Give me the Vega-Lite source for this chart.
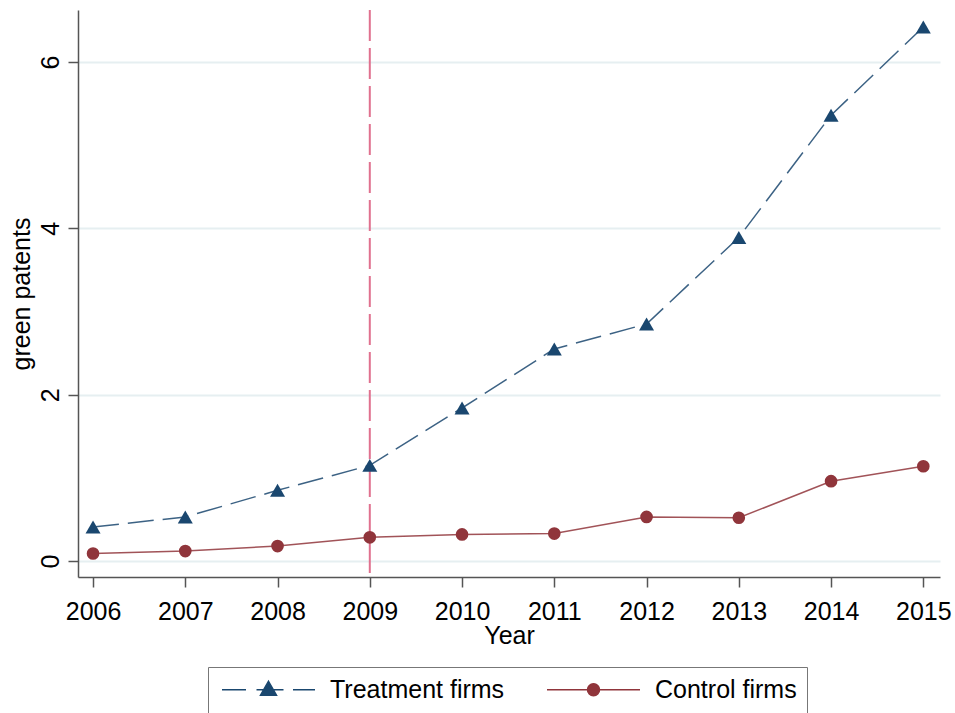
{
  "$schema": "https://vega.github.io/schema/vega-lite/v6.json",
  "autosize": {"type": "none"},
  "width": 862,
  "height": 567,
  "padding": {"left": 78, "top": 10, "right": 15, "bottom": 136},
  "background": "white",
  "config": {
    "view": {"stroke": null},
    "font": "Liberation Sans",
    "axis": {
      "labelFont": "Liberation Sans",
      "titleFont": "Liberation Sans",
      "labelFontSize": 25,
      "titleFontSize": 25,
      "titleFontWeight": "normal",
      "labelColor": "#000",
      "titleColor": "#000",
      "domainColor": "#555",
      "domainWidth": 1.5,
      "tickColor": "#555",
      "tickWidth": 1.5,
      "tickSize": 10
    }
  },
  "data": {
    "values": [
      {"year": 2006, "series": "Treatment firms", "value": 0.41},
      {"year": 2007, "series": "Treatment firms", "value": 0.53},
      {"year": 2008, "series": "Treatment firms", "value": 0.85},
      {"year": 2009, "series": "Treatment firms", "value": 1.15},
      {"year": 2010, "series": "Treatment firms", "value": 1.84},
      {"year": 2011, "series": "Treatment firms", "value": 2.55},
      {"year": 2012, "series": "Treatment firms", "value": 2.85},
      {"year": 2013, "series": "Treatment firms", "value": 3.89},
      {"year": 2014, "series": "Treatment firms", "value": 5.36},
      {"year": 2015, "series": "Treatment firms", "value": 6.42},
      {"year": 2006, "series": "Control firms", "value": 0.09},
      {"year": 2007, "series": "Control firms", "value": 0.12},
      {"year": 2008, "series": "Control firms", "value": 0.18},
      {"year": 2009, "series": "Control firms", "value": 0.285},
      {"year": 2010, "series": "Control firms", "value": 0.32},
      {"year": 2011, "series": "Control firms", "value": 0.33},
      {"year": 2012, "series": "Control firms", "value": 0.53},
      {"year": 2013, "series": "Control firms", "value": 0.52},
      {"year": 2014, "series": "Control firms", "value": 0.96},
      {"year": 2015, "series": "Control firms", "value": 1.14}
    ]
  },
  "layer": [
    {
      "data": {"values": [{"year": 2009}]},
      "mark": {"type": "rule", "color": "#e0718f", "strokeWidth": 2, "strokeDash": [31, 7]},
      "encoding": {
        "x": {"field": "year", "type": "quantitative"}
      }
    },
    {
      "transform": [{"filter": "datum.series === 'Treatment firms'"}],
      "mark": {"type": "line", "strokeWidth": 1.5, "opacity": 0.85, "color": "#1a476f", "strokeDash": [26, 9]},
      "encoding": {
        "x": {
          "field": "year", "type": "quantitative",
          "scale": {"domain": [2005.837, 2015.181], "nice": false, "zero": false},
          "axis": {
            "values": [2006, 2007, 2008, 2009, 2010, 2011, 2012, 2013, 2014, 2015],
            "format": "d",
            "title": "Year",
            "grid": false,
            "labelBaseline": "alphabetic",
            "labelPadding": 32,
            "titleBaseline": "alphabetic",
            "titleY": 66,
            "titleX": 431
          }
        },
        "y": {
          "field": "value", "type": "quantitative",
          "scale": {"domain": [-0.192, 6.625], "nice": false, "zero": false},
          "axis": {
            "values": [0, 2, 4, 6],
            "format": "d",
            "title": "green patents",
            "grid": true,
            "gridColor": "#e6eff1",
            "gridWidth": 2,
            "labelAngle": 270,
            "labelAlign": "center",
            "labelBaseline": "alphabetic",
            "labelPadding": 10,
            "titleAngle": 270,
            "titleAlign": "center",
            "titleBaseline": "alphabetic",
            "titleX": -49,
            "titleY": 283.5
          }
        }
      }
    },
    {
      "transform": [{"filter": "datum.series === 'Control firms'"}],
      "mark": {"type": "line", "strokeWidth": 1.5, "opacity": 0.85, "color": "#90353b"},
      "encoding": {
        "x": {"field": "year", "type": "quantitative"},
        "y": {"field": "value", "type": "quantitative"}
      }
    },
    {
      "mark": {"type": "point", "filled": true, "opacity": 1},
      "encoding": {
        "x": {"field": "year", "type": "quantitative"},
        "y": {"field": "value", "type": "quantitative"},
        "color": {
          "condition": {"test": "datum.series === 'Treatment firms'", "value": "#1a476f"},
          "value": "#90353b"
        },
        "shape": {
          "condition": {"test": "datum.series === 'Treatment firms'", "value": "triangle-up"},
          "value": "circle"
        },
        "size": {
          "condition": {"test": "datum.series === 'Treatment firms'", "value": 225},
          "value": 160
        }
      }
    },
    {
      "transform": [{"filter": "datum.year < 0"}],
      "mark": {"type": "point", "strokeWidth": 1.5, "opacity": 1, "fillOpacity": 1, "strokeOpacity": 1},
      "encoding": {
        "x": {"field": "year", "type": "quantitative"},
        "y": {"field": "value", "type": "quantitative"},
        "fill": {
          "field": "series", "type": "nominal",
          "scale": {"domain": ["Treatment firms", "Control firms"], "range": ["#1a476f", "#90353b"]},
          "legend": {
            "title": null,
            "orient": "none",
            "legendX": 130,
            "legendY": 657,
            "direction": "horizontal",
            "columns": 2,
            "padding": 10,
            "strokeColor": "#777",
            "fillColor": "white",
            "labelFont": "Liberation Sans",
            "labelFontSize": 25,
            "labelColor": "#000",
            "labelLimit": 400,
            "symbolSize": 400,
            "symbolStrokeWidth": 1.5,
            "symbolOpacity": 1,
            "symbolOffset": 38,
            "labelOffset": 49,
            "columnPadding": 38
          }
        },
        "stroke": {
          "field": "series", "type": "nominal",
          "scale": {"domain": ["Treatment firms", "Control firms"], "range": ["#1a476f", "#90353b"]}
        },
        "shape": {
          "field": "series", "type": "nominal",
          "scale": {
            "domain": ["Treatment firms", "Control firms"],
            "range": [
              "M-4.65,0H-2.25M-1.2,0H1.5M2.45,0H4.65M0,-0.85L0.8,0.55L-0.8,0.55Z",
              "M-4.65,0H4.65M0.6,0A0.6,0.6,0,1,1,-0.6,0A0.6,0.6,0,1,1,0.6,0Z"
            ]
          }
        }
      }
    }
  ]
}
